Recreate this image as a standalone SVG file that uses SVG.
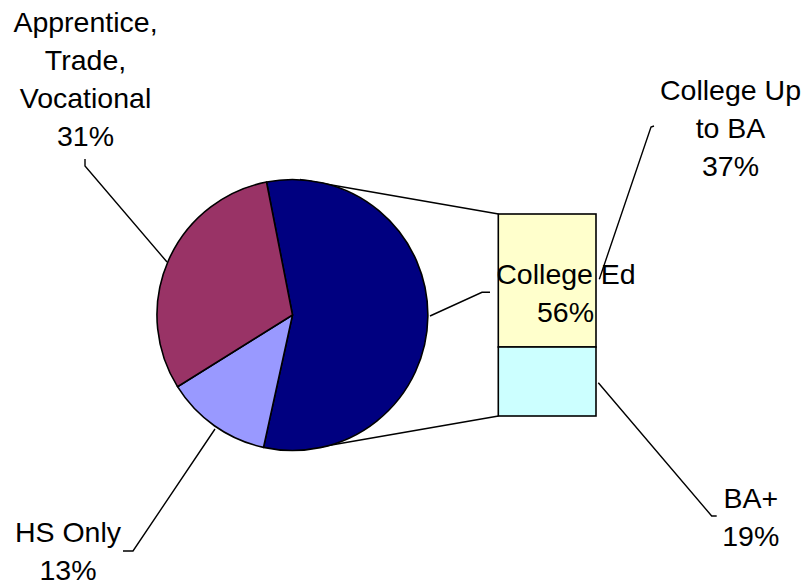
<svg xmlns="http://www.w3.org/2000/svg" width="805" height="587" viewBox="0 0 805 587">
<style>
.t{font-family:"Liberation Sans",Arial,sans-serif;font-size:28.5px;fill:#000;text-anchor:middle}
.ln{fill:none;stroke:#000;stroke-width:1.4}
.sl{stroke:#000;stroke-width:1.6;stroke-linejoin:round}
</style>
<rect width="805" height="587" fill="#fff"/>
<g id="connectors">
<path class="ln" d="M300,179.5 L498.5,214"/>
<path class="ln" d="M320,447 L498.5,416"/>
<path class="ln" d="M85,159 L85,166 L167,262"/>
<path class="ln" d="M123,551 L133,551 L215,429"/>
<path class="ln" d="M430,316 L482,292.3 L490,292.3"/>
<path class="ln" d="M654,126 L651,127 L599.3,279.3"/>
<path class="ln" d="M598.3,382.7 L711.7,516 L716.7,516"/>
</g>
<g id="college-ed">
<path class="sl" fill="#000080" d="M292.5,315 L266.5,182 A135.5,135.5 0 1 1 263.5,447.4 Z"/>
</g>
<g id="hs-only">
<path class="sl" fill="#9999FF" d="M292.5,315 L263.5,447.4 A135.5,135.5 0 0 1 177.5,386.7 Z"/>
</g>
<g id="apprentice">
<path class="sl" fill="#993366" d="M292.5,315 L177.5,386.7 A135.5,135.5 0 0 1 266.5,182 Z"/>
</g>
<g id="college-up-to-ba">
<rect x="498.3" y="214" width="97.7" height="133" fill="#FFFFCC" stroke="#000" stroke-width="1.6"/>
</g>
<g id="ba-plus">
<rect x="498.3" y="347" width="97.7" height="69" fill="#CCFFFF" stroke="#000" stroke-width="1.6"/>
</g>
<g id="labels">
<text class="t" x="85.5" y="31.7">Apprentice,</text>
<text class="t" x="85.5" y="69.8">Trade,</text>
<text class="t" x="85.5" y="107.9">Vocational</text>
<text class="t" x="85.5" y="146">31%</text>
<text class="t" x="68" y="541.7">HS Only</text>
<text class="t" x="68" y="580">13%</text>
<text class="t" x="730.5" y="100">College Up</text>
<text class="t" x="730.5" y="138">to BA</text>
<text class="t" x="730.5" y="176">37%</text>
<text class="t" x="566" y="284.3">College Ed</text>
<text class="t" x="565.5" y="321.7">56%</text>
<text class="t" x="750.8" y="507.7">BA+</text>
<text class="t" x="750.8" y="545.7">19%</text>
</g>
</svg>
